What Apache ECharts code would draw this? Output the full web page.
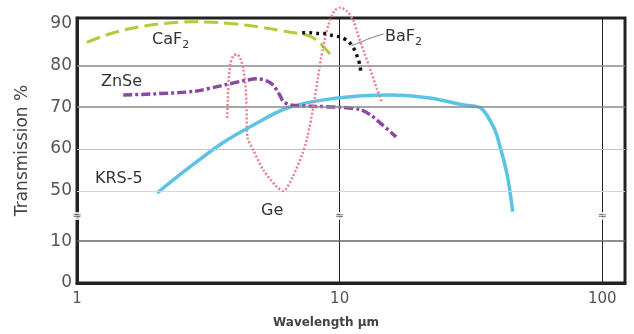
<!DOCTYPE html>
<html>
<head>
<meta charset="utf-8">
<script src="https://cdn.jsdelivr.net/npm/echarts@6/dist/echarts.min.js"></script>
<style>
  html, body { margin: 0; padding: 0; background: #fff; }
  #chart { width: 634px; height: 334px; }
</style>
</head>
<body>
<div id="chart"></div>
<script>
// 波长 (µm) / 透过率 (%)
var caf2 = [[1.09, 85.5], [1.3, 87.3], [1.6, 88.8], [2.0, 89.8], [2.7, 90.4], [3.5, 90.2], [4.5, 89.5], [5.5, 88.7], [6.5, 87.9], [7.5, 87.2], [8.2, 86.0], [8.8, 84.0], [9.4, 82.0]]
var baf2 = [[7.2, 87.8], [7.7, 87.8], [8.2, 87.6], [8.7, 87.6], [9.3, 87.2], [10.0, 86.8], [10.8, 85.7], [11.3, 84.1], [11.7, 81.9], [11.95, 79.9], [12.05, 78.0]]
var znse = [[1.5, 72.9], [2.0, 73.2], [2.8, 73.8], [3.7, 75.4], [4.3, 76.3], [4.85, 76.8], [5.3, 76.2], [5.6, 75.2], [5.9, 73.0], [6.1, 71.4], [6.5, 70.5], [8.0, 70.2], [10.0, 70.0], [12.0, 69.4], [13.2, 68.0], [14.3, 66.2], [16.4, 62.9]]
var ge = [[3.73, 67.4], [3.75, 72.0], [3.78, 76.5], [3.84, 80.5], [3.94, 82.3], [4.07, 82.6], [4.19, 81.6], [4.30, 79.0], [4.38, 75.2], [4.42, 69.8], [4.46, 62.7], [4.70, 59.6], [5.13, 54.9], [5.78, 50.9], [6.11, 50.0], [6.62, 53.3], [7.20, 58.7], [7.53, 62.7], [7.96, 70.5], [8.25, 76.8], [8.62, 83.9], [9.08, 89.8], [9.57, 93.1], [10.09, 93.8], [10.73, 92.8], [11.31, 90.5], [11.82, 86.7], [12.46, 82.7], [13.13, 78.7], [13.84, 74.5], [14.47, 71.2]]
var krs5 = [[2.02, 49.5], [2.6, 55.0], [3.51, 61.1], [4.71, 65.8], [6.31, 69.8], [9.5, 72.1], [15.7, 72.9], [22.0, 72.2], [29.7, 70.5], [34.5, 69.8], [38.7, 65.0], [41.2, 59.6], [43.6, 53.3], [45.6, 45.0]]
var baf2Leader = [[11.1, 84.7], [12.4, 85.9], [13.1, 86.5], [14.7, 87.5]]

var xTickLabels = [1, 10, 100]
var yTickLabels = [0, 10, 50, 60, 70, 80, 90]
var gridValues = [10, 50, 60, 70, 80]
var breakXs = [1, 10, 100]
var breakY = 44

// 纵轴断开：10 以上的数据整体下移 28
var GAP = 28
function mapY (v) { return v > 10 ? v - GAP : v }
function mapSeries (arr) { return arr.map(function (p) { return [p[0], mapY(p[1])] }) }

var FONT = 'DejaVu Sans'
var gridColors = { 10: '#666', 50: '#d6d6d6', 60: '#c4c4c4', 70: '#8a8a8a', 80: '#8a8a8a' }

var myChart = echarts.init(document.getElementById('chart'))

var option = {
  animation: false,
  grid: { left: 77, right: 9, top: 18, bottom: 47, show: true, borderColor: '#222', borderWidth: 3 },
  xAxis: {
    type: 'log',
    logBase: 10,
    min: 1,
    max: 122,
    name: 'Wavelength µm',
    nameLocation: 'middle',
    nameGap: 34,
    nameTextStyle: { fontFamily: FONT, fontSize: 12, fontWeight: 'bold', color: '#444', padding: [0, 50, 0, 0] },
    axisLine: { lineStyle: { color: '#222', width: 3 } },
    axisTick: { show: false },
    axisLabel: {
      margin: 9,
      fontFamily: FONT,
      fontSize: 15,
      color: '#555',
      formatter: function (v) {
        var r = Math.round(v)
        return xTickLabels.indexOf(r) > -1 && Math.abs(v - r) < 1e-6 ? String(r) : ''
      }
    },
    splitLine: { show: true, lineStyle: { color: '#222', width: 1 } }
  },
  yAxis: {
    type: 'value',
    min: 0,
    max: 63.3,
    interval: 2,
    name: 'Transmission %',
    nameLocation: 'middle',
    nameGap: 46,
    nameTextStyle: { fontFamily: FONT, fontSize: 17, color: '#444' },
    axisLine: { show: true, lineStyle: { color: '#222', width: 3 } },
    axisTick: { show: false },
    splitLine: { show: false },
    axisLabel: {
      margin: 5,
      fontFamily: FONT,
      fontSize: 17,
      color: '#555',
      formatter: function (v) {
        var r = Math.round(v)
        for (var i = 0; i < yTickLabels.length; i++) {
          if (mapY(yTickLabels[i]) === r && Math.abs(v - r) < 1e-6) return String(yTickLabels[i])
        }
        return ''
      }
    }
  },
  series: [
    {
      name: 'grid',
      type: 'line',
      data: [],
      markLine: {
        silent: true,
        symbol: 'none',
        label: { show: false },
        data: gridValues.map(function (g) {
          return { yAxis: mapY(g), lineStyle: { color: gridColors[g], width: g >= 70 || g === 10 ? 1.5 : 1.2, type: 'solid' } }
        })
      },
      z: 1
    },
    {
      name: 'CaF2',
      type: 'line',
      data: mapSeries(caf2),
      smooth: 0.3,
      showSymbol: false,
      lineStyle: { color: '#aecd3a', width: 3, type: [14, 6] },
      z: 3
    },
    {
      name: 'KRS-5',
      type: 'line',
      data: mapSeries(krs5),
      smooth: 0.3,
      showSymbol: false,
      lineStyle: { color: '#5cc3e6', width: 3.5 },
      z: 3
    },
    {
      name: 'ZnSe',
      type: 'line',
      data: mapSeries(znse),
      smooth: 0.3,
      showSymbol: false,
      lineStyle: { color: '#8a48a2', width: 3.5, type: [9, 3, 3, 3] },
      z: 4
    },
    {
      name: 'Ge',
      type: 'line',
      data: mapSeries(ge),
      smooth: 0.25,
      clip: false,
      showSymbol: false,
      lineStyle: { color: '#e8808c', width: 2.5, type: [2, 2], cap: 'butt' },
      z: 5
    },
    {
      name: 'BaF2',
      type: 'line',
      data: mapSeries(baf2),
      smooth: 0.3,
      showSymbol: false,
      lineStyle: { color: '#111', width: 3.5, type: [3, 4], cap: 'butt' },
      z: 6
    },
    {
      name: 'leader',
      type: 'line',
      data: mapSeries(baf2Leader),
      smooth: 0.3,
      showSymbol: false,
      lineStyle: { color: '#777', width: 1 },
      z: 6
    },
    {
      name: 'breaks',
      type: 'scatter',
      data: breakXs.map(function (x) { return [x, mapY(breakY)] }),
      symbol: 'rect',
      symbolSize: [8, 8],
      clip: false,
      itemStyle: { color: '#fff' },
      label: { show: true, position: 'inside', formatter: '≈', fontFamily: FONT, fontSize: 11, color: '#333' },
      z: 7
    }
  ],
  graphic: [
    { type: 'text', left: 152, top: 32, style: { text: 'CaF{s|2}', font: '16px "DejaVu Sans"', fill: '#333', rich: { s: { fontSize: 11, fontFamily: FONT, padding: [10, 0, 0, 0], fill: '#333' } } } },
    { type: 'text', left: 385, top: 29, style: { text: 'BaF{s|2}', font: '16px "DejaVu Sans"', fill: '#333', rich: { s: { fontSize: 11, fontFamily: FONT, padding: [10, 0, 0, 0], fill: '#333' } } } },
    { type: 'text', left: 101, top: 74, style: { text: 'ZnSe', font: '16px "DejaVu Sans"', fill: '#333' } },
    { type: 'text', left: 95, top: 171, style: { text: 'KRS-5', font: '16px "DejaVu Sans"', fill: '#333' } },
    { type: 'text', left: 261, top: 203, style: { text: 'Ge', font: '16px "DejaVu Sans"', fill: '#333' } }
  ]
}

myChart.setOption(option, true)
window.addEventListener('resize', function () {
  myChart.resize()
})
</script>
</body>
</html>
